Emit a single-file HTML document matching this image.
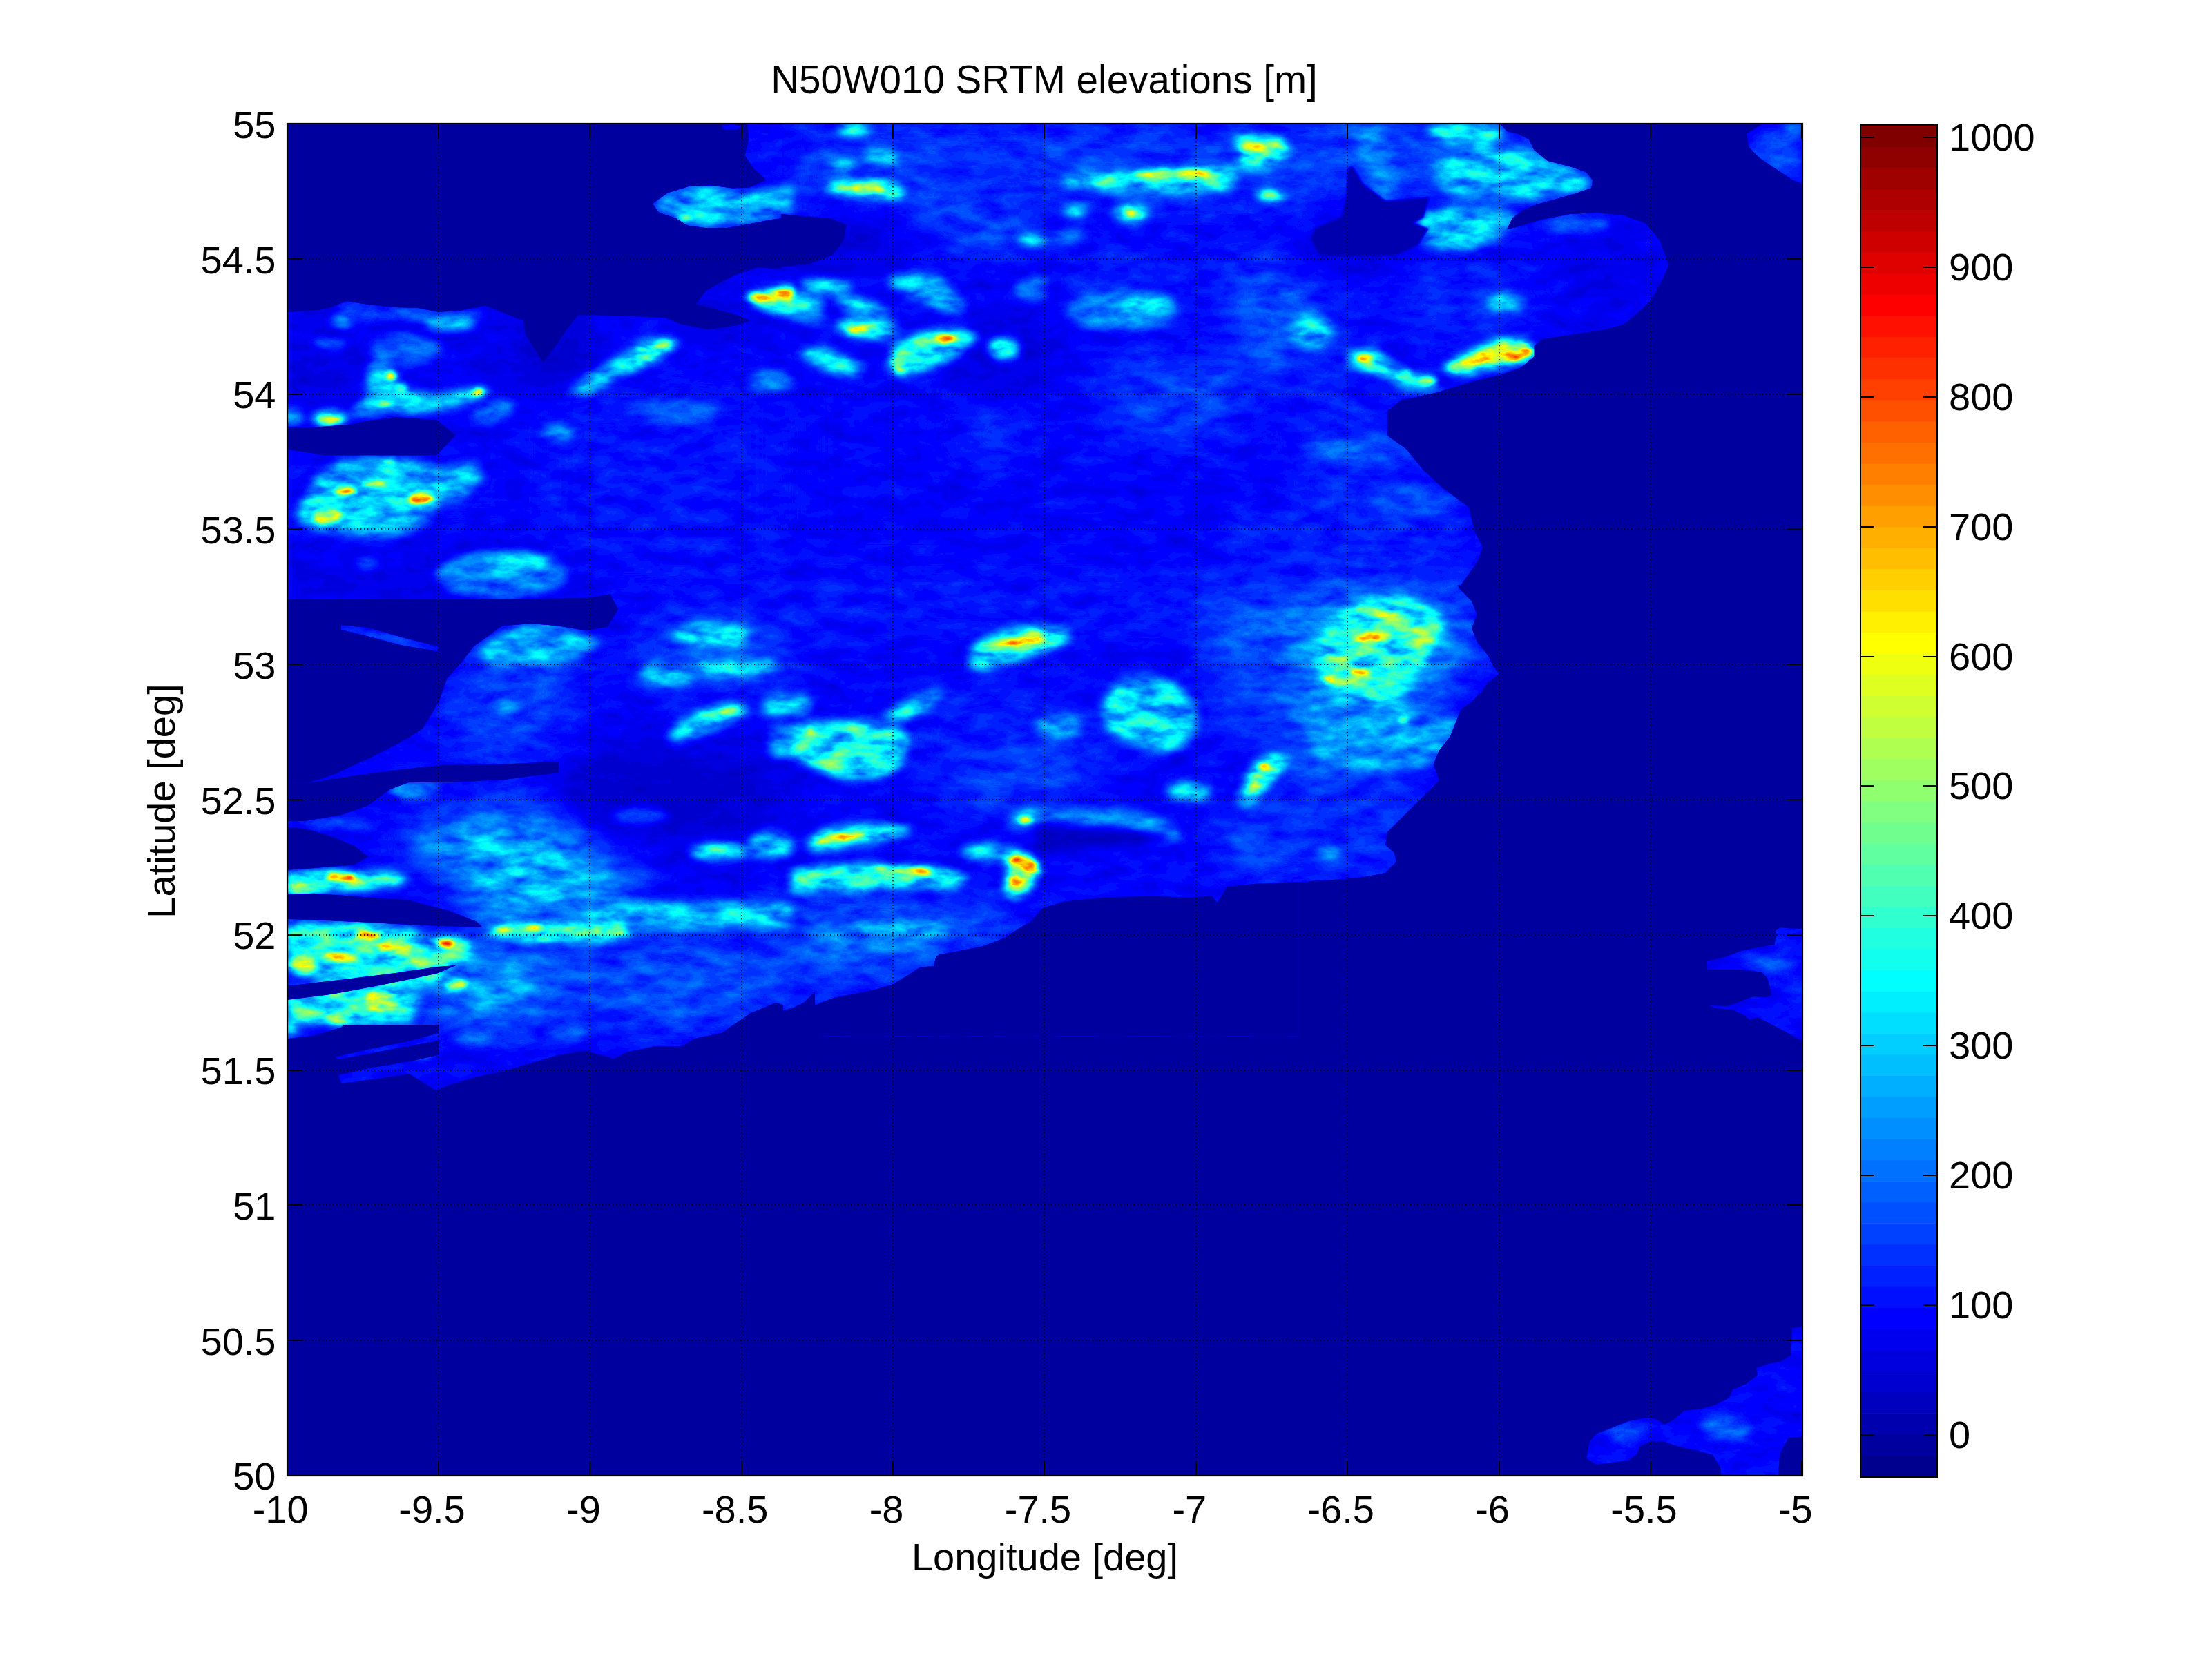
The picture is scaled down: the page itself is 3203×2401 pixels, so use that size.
<!DOCTYPE html><html><head><meta charset="utf-8"><style>html,body{margin:0;padding:0;background:#fff;width:3203px;height:2401px;overflow:hidden}svg{display:block}text{font-family:'Liberation Sans',sans-serif}</style></head><body>
<svg width="3203" height="2401" viewBox="0 0 3203 2401">
<rect x="0" y="0" width="3203" height="2401" fill="#fff"/>
<svg x="415" y="178" width="2196" height="1960" viewBox="415 178 2196 1960" overflow="hidden">
<rect x="415" y="178" width="2196" height="1960" fill="#00009F"/>
<defs>
<filter id="jet" filterUnits="userSpaceOnUse" x="415" y="178" width="2196" height="1960" color-interpolation-filters="sRGB"><feComponentTransfer><feFuncR type="discrete" tableValues="0.00000 0.00000 0.00000 0.00000 0.00000 0.00000 0.00000 0.00000 0.00000 0.00000 0.00000 0.00000 0.00000 0.00000 0.00000 0.00000 0.00000 0.00000 0.00000 0.00000 0.00000 0.00000 0.00000 0.00000 0.06275 0.12549 0.18824 0.25098 0.31373 0.37647 0.43922 0.50196 0.56078 0.62353 0.68627 0.74902 0.81176 0.87451 0.93725 1.00000 1.00000 1.00000 1.00000 1.00000 1.00000 1.00000 1.00000 1.00000 1.00000 1.00000 1.00000 1.00000 1.00000 1.00000 1.00000 1.00000 0.93725 0.87451 0.81176 0.74902 0.68627 0.62353 0.56078 0.50196"/><feFuncG type="discrete" tableValues="0.00000 0.00000 0.00000 0.00000 0.00000 0.00000 0.00000 0.00000 0.06275 0.12549 0.18824 0.25098 0.31373 0.37647 0.43922 0.50196 0.56078 0.62353 0.68627 0.74902 0.81176 0.87451 0.93725 1.00000 1.00000 1.00000 1.00000 1.00000 1.00000 1.00000 1.00000 1.00000 1.00000 1.00000 1.00000 1.00000 1.00000 1.00000 1.00000 1.00000 0.93725 0.87451 0.81176 0.74902 0.68627 0.62353 0.56078 0.50196 0.43922 0.37647 0.31373 0.25098 0.18824 0.12549 0.06275 0.00000 0.00000 0.00000 0.00000 0.00000 0.00000 0.00000 0.00000 0.00000"/><feFuncB type="discrete" tableValues="0.56078 0.62353 0.68627 0.74902 0.81176 0.87451 0.93725 1.00000 1.00000 1.00000 1.00000 1.00000 1.00000 1.00000 1.00000 1.00000 1.00000 1.00000 1.00000 1.00000 1.00000 1.00000 1.00000 1.00000 0.93725 0.87451 0.81176 0.74902 0.68627 0.62353 0.56078 0.50196 0.43922 0.37647 0.31373 0.25098 0.18824 0.12549 0.06275 0.00000 0.00000 0.00000 0.00000 0.00000 0.00000 0.00000 0.00000 0.00000 0.00000 0.00000 0.00000 0.00000 0.00000 0.00000 0.00000 0.00000 0.00000 0.00000 0.00000 0.00000 0.00000 0.00000 0.00000 0.00000"/></feComponentTransfer></filter>
<filter id="bl0" filterUnits="userSpaceOnUse" x="415" y="178" width="2196" height="1960" color-interpolation-filters="sRGB"><feGaussianBlur stdDeviation="30.00"/></filter>
<filter id="bl1" filterUnits="userSpaceOnUse" x="415" y="178" width="2196" height="1960" color-interpolation-filters="sRGB"><feGaussianBlur stdDeviation="7.00"/></filter>
<filter id="bl2" filterUnits="userSpaceOnUse" x="415" y="178" width="2196" height="1960" color-interpolation-filters="sRGB"><feGaussianBlur stdDeviation="3.50"/></filter>
<filter id="bl3" filterUnits="userSpaceOnUse" x="415" y="178" width="2196" height="1960" color-interpolation-filters="sRGB"><feGaussianBlur stdDeviation="1.50"/></filter>
<filter id="noise" filterUnits="userSpaceOnUse" x="415" y="178" width="2196" height="1960" color-interpolation-filters="sRGB"><feTurbulence type="fractalNoise" baseFrequency="0.022 0.05" numOctaves="4" seed="7" result="n0"/><feColorMatrix in="n0" type="matrix" values="1 0 0 0 0  1 0 0 0 0  1 0 0 0 0  0 0 0 0 1" result="n"/><feComponentTransfer in="SourceGraphic" result="A"><feFuncR type="table" tableValues="0.0000 0.0654 0.1699 0.3595 0.5556 0.6536 0.7190 0.7190 0.7190 0.7190 0.7190"/><feFuncG type="table" tableValues="0.0000 0.0654 0.1699 0.3595 0.5556 0.6536 0.7190 0.7190 0.7190 0.7190 0.7190"/><feFuncB type="table" tableValues="0.0000 0.0654 0.1699 0.3595 0.5556 0.6536 0.7190 0.7190 0.7190 0.7190 0.7190"/></feComponentTransfer><feComponentTransfer in="SourceGraphic" result="Ep"><feFuncR type="table" tableValues="0.0000 0.0673 0.1150 0.1203 0.1222 0.1732 0.2405 0.3405 0.4405 0.5405 0.6405"/><feFuncG type="table" tableValues="0.0000 0.0673 0.1150 0.1203 0.1222 0.1732 0.2405 0.3405 0.4405 0.5405 0.6405"/><feFuncB type="table" tableValues="0.0000 0.0673 0.1150 0.1203 0.1222 0.1732 0.2405 0.3405 0.4405 0.5405 0.6405"/></feComponentTransfer><feComposite in="A" in2="n" operator="arithmetic" k1="1" k2="0" k3="0" k4="0" result="r"/><feComposite in="Ep" in2="r" operator="arithmetic" k1="0" k2="1" k3="1" k4="0"/></filter>
<mask id="land" maskUnits="userSpaceOnUse" x="415" y="178" width="2196" height="1960">
<rect x="415" y="178" width="2196" height="1960" fill="#000"/>
<polygon points="1080.5,162.2 1084.4,201.6 1078.5,225.3 1092.3,244.9 1110.0,260.7 1084.4,271.7 1060.8,272.5 1029.3,268.6 997.8,269.7 966.3,279.6 944.6,295.3 954.5,307.9 978.1,315.8 995.8,326.8 1021.4,330.0 1052.9,330.0 1084.4,324.5 1115.9,318.2 1163.1,311.9 1163.1,162.2" fill="#fff"/>
<polygon points="1045.0,181.2 1060.8,179.6 1073.4,182.7 1068.6,187.5 1049.0,187.5" fill="#fff"/>
<polygon points="1093.1,211.5 1108.0,209.5 1118.3,214.2 1108.0,218.2 1096.2,216.6" fill="#fff"/>
<polygon points="399.2,452.5 415.0,452.5 438.6,450.5 462.3,448.9 478.0,445.8 501.6,435.9 533.1,441.0 572.5,445.0 604.0,445.8 635.5,451.7 667.0,449.7 702.8,442.6 730.0,453.6 757.6,464.3 761.5,485.1 786.3,524.9 804.8,500.9 820.6,477.3 836.7,456.4 871.8,456.4 926.9,458.4 963.9,460.3 986.0,469.4 1025.3,477.3 1064.7,471.4 1087.2,464.3 1060.8,453.6 1043.1,449.7 1008.0,440.6 1021.4,422.1 1043.1,409.1 1064.7,398.5 1096.2,387.5 1123.8,388.7 1163.1,385.9 1163.1,847.4 399.2,847.4" fill="#fff"/>
<polygon points="1131.2,162.2 1895.1,162.2 1895.1,847.4 1131.2,847.4" fill="#fff"/>
<polygon points="1863.2,162.2 2170.4,162.2 2170.4,178.0 2182.2,189.8 2197.9,193.8 2213.7,201.6 2221.6,217.4 2241.3,233.1 2272.8,241.0 2296.4,248.9 2306.2,260.7 2304.3,272.5 2280.6,280.4 2253.1,288.3 2225.5,296.1 2205.8,304.0 2190.1,315.8 2182.2,331.6 2194.0,329.6 2233.4,317.8 2272.8,309.9 2312.1,307.9 2351.5,311.9 2383.0,323.7 2402.7,347.3 2416.5,382.8 2406.6,406.4 2390.9,433.9 2371.2,453.6 2351.5,469.4 2324.0,477.3 2292.5,482.0 2264.9,485.9 2233.4,491.0 2221.6,500.9 2221.6,516.6 2201.9,532.4 2174.3,542.2 2134.9,552.1 2099.5,561.9 2083.8,567.8 2056.2,573.7 2028.6,579.6 2008.9,595.4 2008.9,630.8 2036.5,650.5 2060.1,679.7 2087.7,705.6 2126.7,734.4 2134.9,768.6 2146.8,792.3 2139.7,812.7 2115.3,847.4 1863.2,847.4" fill="#fff"/>
<polygon points="2528.7,193.8 2548.4,181.9 2579.9,162.2 2627.1,162.2 2627.1,272.5 2595.6,260.7 2572.0,244.9 2548.4,229.2 2532.6,213.4" fill="#fff"/>
<polygon points="399.2,815.2 1163.1,815.2 1163.1,1483.9 399.2,1483.9" fill="#fff"/>
<polygon points="1131.2,815.2 1895.1,815.2 1895.1,1277.1 1880.2,1277.1 1880.2,1500.4 1131.2,1500.4" fill="#fff"/>
<polygon points="1863.2,815.2 2091.6,815.2 2099.5,831.0 2115.3,854.6 2131.0,870.4 2138.9,890.1 2131.0,909.8 2138.9,929.4 2154.6,949.1 2162.5,964.9 2171.2,975.9 2154.6,988.5 2146.8,1000.3 2131.0,1016.1 2115.3,1027.9 2107.4,1047.6 2099.5,1067.3 2083.8,1086.9 2075.9,1106.6 2083.8,1130.3 2068.0,1146.0 2048.3,1165.7 2028.6,1185.4 2008.9,1205.1 2006.2,1223.2 2019.2,1235.0 2021.9,1248.0 2006.2,1264.1 1975.1,1270.0 1943.2,1273.2 1910.5,1275.2 1880.2,1277.1 1863.2,1277.9" fill="#fff"/>
<polygon points="2571.0,1348.0 2578.0,1343.0 2588.0,1344.0 2609.0,1345.0 2620.0,1345.0 2620.0,1510.0 2609.0,1507.0 2587.0,1495.0 2557.0,1479.0 2545.0,1473.0 2533.0,1477.0 2527.0,1471.0 2509.0,1462.0 2484.0,1460.0 2475.0,1456.0 2502.0,1457.0 2521.0,1450.0 2539.0,1443.0 2557.0,1444.0 2565.0,1441.0 2563.0,1429.0 2559.0,1416.0 2551.0,1408.0 2521.0,1404.0 2497.0,1404.0 2472.0,1404.0 2472.0,1392.0 2497.0,1386.0 2521.0,1377.0 2545.0,1372.0 2569.0,1368.0 2572.0,1356.0" fill="#fff"/>
<polygon points="2297.0,2112.0 2302.0,2087.0 2312.0,2076.0 2333.0,2068.0 2358.0,2058.0 2382.0,2053.0 2398.0,2055.0 2410.0,2063.0 2423.0,2056.0 2439.0,2043.0 2464.0,2040.0 2485.0,2034.0 2504.0,2024.0 2509.0,2012.0 2529.0,2004.0 2545.0,1991.0 2543.0,1981.0 2561.0,1975.0 2577.0,1972.0 2594.0,1962.0 2594.0,1949.0 2595.0,1923.0 2615.0,1921.0 2615.0,2080.0 2590.0,2082.0 2577.0,2105.0 2575.0,2140.0 2493.0,2140.0 2491.0,2125.0 2480.0,2107.0 2455.0,2100.0 2431.0,2095.0 2407.0,2087.0 2390.0,2087.0 2374.0,2095.0 2371.0,2105.0 2358.0,2115.0 2333.0,2118.0 2312.0,2121.0" fill="#fff"/>
<polygon points="399.2,619.0 450.8,619.0 504.8,615.1 533.1,609.2 572.5,604.1 632.0,608.0 659.9,630.0 632.0,659.2 572.5,659.2 468.9,659.2 415.0,650.5 399.2,650.5" fill="#000"/>
<polygon points="1131.2,309.9 1170.6,313.8 1202.1,315.8 1225.8,325.7 1221.8,347.3 1206.1,369.0 1169.8,383.2 1131.2,385.9" fill="#000"/>
<polygon points="399.2,868.0 611.9,868.0 730.0,868.0 808.8,866.4 848.1,865.7 883.6,860.5 895.4,882.2 879.6,907.8 848.1,912.9 808.0,906.2 767.8,903.1 726.9,906.2 706.4,921.6 685.9,936.1 667.0,960.9 647.7,981.8 635.5,1016.1 611.9,1055.4 580.4,1075.1 533.1,1098.8 485.9,1120.4 446.1,1133.8 399.2,1133.8" fill="#000"/>
<polygon points="399.2,1133.8 446.1,1133.8 513.4,1123.2 572.5,1115.3 643.0,1107.4 730.0,1106.6 808.8,1102.7 808.8,1119.2 730.0,1129.1 651.3,1133.0 592.2,1133.0 564.6,1142.9 533.1,1166.5 493.8,1180.3 441.0,1188.9 399.2,1188.9" fill="#000"/>
<polygon points="399.2,1197.2 438.6,1199.2 474.1,1209.0 513.4,1224.8 533.1,1240.5 513.4,1252.3 474.1,1255.5 434.7,1258.6 399.2,1260.2" fill="#000"/>
<polygon points="399.2,1295.6 454.4,1293.7 533.1,1299.6 592.2,1303.5 651.3,1319.3 690.6,1335.0 698.5,1342.9 651.3,1341.3 592.2,1339.0 533.1,1335.8 454.4,1331.9 399.2,1330.3" fill="#000"/>
<polygon points="399.0,1425.0 415.0,1428.0 500.0,1418.0 580.0,1408.0 632.0,1400.0 660.0,1398.0 632.0,1410.0 560.0,1425.0 480.0,1440.0 415.0,1448.0 399.0,1450.0" fill="#000"/>
<polygon points="1030.0,1510.0 1062.0,1484.0 1085.0,1468.0 1124.0,1452.0 1147.0,1460.0 1164.0,1452.0 1180.0,1436.0 1180.0,1530.0 1030.0,1530.0" fill="#000"/>
<polygon points="1131.2,1500.4 1131.2,1468.9 1166.7,1461.0 1206.1,1445.3 1265.1,1433.5 1293.1,1425.6 1324.2,1405.9 1360.0,1382.3 1391.1,1376.4 1422.6,1370.5 1454.1,1358.6 1477.8,1342.9 1491.9,1335.0 1509.3,1315.3 1540.8,1305.5 1599.8,1299.6 1667.2,1297.6 1718.0,1299.6 1755.0,1297.6 1762.8,1307.5 1777.0,1283.8 1816.4,1279.9 1880.2,1277.1 1880.2,1500.4" fill="#000"/>
<polygon points="493.8,905.0 533.1,909.0 580.4,922.4 635.5,936.5 633.5,943.2 580.4,934.2 533.1,921.6 493.8,911.7" fill="#fff"/>
<polygon points="635.9,1468.2 1085.5,1468.2 1061.8,1484.0 1046.0,1495.8 1006.6,1503.7 986.9,1515.6 947.4,1515.6 908.0,1523.4 888.3,1533.3 848.8,1521.5 809.4,1527.4 770.0,1539.2 730.5,1551.0 691.1,1558.9 651.6,1570.8 631.9,1578.7 624.0,1574.7 592.5,1555.0 553.0,1560.9 513.6,1566.8 493.9,1568.8 489.9,1557.0 533.3,1547.1 592.5,1537.2 635.9,1527.4" fill="#fff"/>
<polygon points="486.0,1530.5 533.3,1519.5 592.5,1507.7 635.9,1495.8 643.8,1495.8 643.8,1505.7 592.5,1514.4 533.3,1526.2 489.9,1534.1" fill="#fff"/>
<polygon points="399.2,1468.2 513.6,1468.2 493.9,1487.9 454.4,1499.8 415.0,1504.5 399.2,1505.7" fill="#fff"/>
<polygon points="1133.8,1463.4 1147.0,1460.1 1163.5,1450.2 1173.5,1430.3 1213.2,1436.9 1246.3,1430.3 1289.3,1422.1 1295.9,1403.9 1352.2,1398.9 1358.8,1370.8 1133.8,1370.8" fill="#fff"/>
</mask>
</defs>
<g filter="url(#jet)">
<rect x="415" y="178" width="2196" height="1960" fill="#060606"/>
<g mask="url(#land)">
<g filter="url(#noise)">
<rect x="415" y="178" width="2196" height="1960" fill="#1e1e1e"/>
<g filter="url(#bl0)">
<polygon points="478.0,453.6 769.4,461.5 808.8,532.4 730.0,571.8 651.3,524.5 533.1,493.0 454.4,485.1" fill="#1a1a1a"/>
<ellipse cx="808.8" cy="512.7" rx="59.1" ry="47.3" fill="#101010"/>
<ellipse cx="1037.1" cy="453.6" rx="59.1" ry="31.5" fill="#141414"/>
<ellipse cx="462.3" cy="532.4" rx="78.8" ry="78.8" fill="#181818"/>
<polygon points="769.4,571.8 1147.0,552.1 1147.0,830.9 769.4,830.9" fill="#222222"/>
<polygon points="415.0,768.6 769.4,768.6 769.4,830.9 415.0,830.9" fill="#1e1e1e"/>
<polygon points="1147.0,178.0 1879.0,178.0 1879.0,296.1 1777.0,304.0 1658.9,307.9 1540.8,280.4 1422.6,264.6 1324.2,296.1 1265.1,288.3 1206.1,304.0 1147.0,307.9" fill="#2c2c2c"/>
<ellipse cx="1438.4" cy="331.6" rx="74.8" ry="23.6" fill="#3a3a3a"/>
<ellipse cx="1359.6" cy="300.1" rx="51.2" ry="11.8" fill="#373737"/>
<ellipse cx="1225.8" cy="343.4" rx="78.8" ry="35.4" fill="#121212"/>
<ellipse cx="1462.0" cy="512.7" rx="78.8" ry="59.1" fill="#161616"/>
<ellipse cx="1619.5" cy="398.5" rx="98.4" ry="15.8" fill="#323232"/>
<ellipse cx="1718.0" cy="540.3" rx="137.8" ry="31.5" fill="#2d2d2d"/>
<ellipse cx="1698.3" cy="603.3" rx="118.1" ry="39.4" fill="#2d2d2d"/>
<ellipse cx="1442.3" cy="630.8" rx="59.1" ry="39.4" fill="#2a2a2a"/>
<ellipse cx="1828.2" cy="776.5" rx="51.2" ry="31.5" fill="#2a2a2a"/>
<ellipse cx="1840.0" cy="489.1" rx="43.3" ry="23.6" fill="#373737"/>
<ellipse cx="1808.5" cy="402.4" rx="70.9" ry="31.5" fill="#2d2d2d"/>
<polygon points="1879.0,178.0 2170.4,178.0 2217.6,209.5 2306.2,256.8 2253.1,292.2 2194.0,307.9 2115.3,296.1 2036.5,288.3 1957.8,276.4 1879.0,296.1" fill="#303030"/>
<ellipse cx="1965.6" cy="343.4" rx="90.6" ry="55.1" fill="#181818"/>
<ellipse cx="1880.0" cy="470.0" rx="90.0" ry="50.0" fill="#3c3c3c"/>
<ellipse cx="2115.3" cy="433.9" rx="98.4" ry="59.1" fill="#282828"/>
<ellipse cx="2331.8" cy="398.5" rx="78.8" ry="78.8" fill="#1a1a1a"/>
<polygon points="1879.0,571.8 2008.9,571.8 2008.9,630.8 2060.1,679.7 2134.9,768.6 2115.3,830.9 1879.0,830.9" fill="#262626"/>
<ellipse cx="1914.4" cy="493.0" rx="47.3" ry="78.8" fill="#282828"/>
<polygon points="399.2,815.2 848.1,815.2 848.1,868.0 399.2,868.0" fill="#161616"/>
<polygon points="651.3,984.6 670.9,960.9 690.6,941.3 722.1,921.6 737.9,905.8 769.4,903.8 808.8,907.8 848.1,921.6 867.8,929.4 848.1,949.1 828.5,988.5 828.5,1027.9 808.8,1067.3 789.1,1098.8 730.0,1106.6 670.9,1102.7 651.3,1067.3 651.3,1027.9" fill="#2d2d2d"/>
<polygon points="446.5,1134.2 651.3,988.5 651.3,1106.6 533.1,1122.4" fill="#1e1e1e"/>
<ellipse cx="966.3" cy="1146.0" rx="177.2" ry="70.9" fill="#121212"/>
<polygon points="572.5,1224.8 611.9,1197.2 690.6,1177.5 769.4,1169.6 808.8,1185.4 848.1,1224.8 907.2,1264.1 926.9,1303.5 887.5,1335.0 808.8,1339.0 730.0,1342.9 690.6,1331.1 670.9,1283.8 631.6,1244.5" fill="#4b4b4b"/>
<ellipse cx="978.1" cy="1421.6" rx="177.2" ry="66.9" fill="#323232"/>
<ellipse cx="710.3" cy="1429.5" rx="102.4" ry="55.1" fill="#464646"/>
<ellipse cx="1037.1" cy="941.3" rx="118.1" ry="59.1" fill="#303030"/>
<polygon points="1147.0,831.0 1879.0,831.0 1879.0,909.8 1147.0,909.8" fill="#242424"/>
<ellipse cx="1816.4" cy="909.8" rx="78.8" ry="47.3" fill="#373737"/>
<ellipse cx="1454.1" cy="1067.3" rx="157.5" ry="98.4" fill="#242424"/>
<polygon points="1343.9,1146.0 1462.0,1106.6 1599.8,1075.1 1619.5,1098.8 1501.4,1146.0 1383.3,1165.7" fill="#373737"/>
<ellipse cx="1808.5" cy="1016.1" rx="70.9" ry="59.1" fill="#2d2d2d"/>
<ellipse cx="1828.2" cy="1220.8" rx="59.1" ry="43.3" fill="#373737"/>
<polygon points="1147.0,1323.2 1265.1,1319.3 1383.3,1323.2 1481.7,1331.1 1462.0,1358.6 1383.3,1374.4 1265.1,1390.1 1147.0,1394.1" fill="#414141"/>
<ellipse cx="1249.4" cy="1409.8" rx="102.4" ry="19.7" fill="#2d2d2d"/>
<polygon points="1879.0,870.4 1910.5,854.6 1938.1,850.7 1977.4,854.6 2036.5,858.6 2083.8,862.5 2115.3,878.3 2131.0,909.8 2123.1,949.1 2099.5,988.5 2075.9,1020.0 2044.4,1051.5 1997.1,1075.1 1957.8,1098.8 1918.4,1106.6 1879.0,1114.5" fill="#464646"/>
<ellipse cx="1965.6" cy="1185.4" rx="118.1" ry="98.4" fill="#282828"/>
<ellipse cx="2580.0" cy="1420.0" rx="60.0" ry="80.0" fill="#222222"/>
</g>
<g filter="url(#bl1)">
<polygon points="946.6,296.1 966.3,281.2 997.8,271.7 1029.3,270.5 1060.8,274.9 1084.4,276.4 1108.0,274.5 1147.0,270.5 1147.0,307.9 1115.9,317.8 1084.4,323.7 1052.9,328.4 1021.4,328.4 995.8,324.5 978.1,313.8 954.5,306.0" fill="#4e4e4e"/>
<polygon points="1084.4,178.0 1147.0,178.0 1147.0,268.6 1112.0,260.7 1092.3,243.0 1080.5,225.3 1084.4,201.6" fill="#202020"/>
<polygon points="481.9,449.7 505.6,438.7 533.1,442.6 572.5,446.9 604.0,447.7 635.5,453.6 667.0,451.7 698.5,445.8 690.6,461.5 651.3,469.4 611.9,467.4 572.5,461.5 533.1,459.5 493.8,461.5" fill="#373737"/>
<ellipse cx="651.3" cy="469.4" rx="35.4" ry="8.7" fill="#555555"/>
<ellipse cx="493.8" cy="467.4" rx="13.8" ry="5.9" fill="#505050"/>
<ellipse cx="478.0" cy="498.9" rx="23.6" ry="5.9" fill="#464646"/>
<ellipse cx="588.3" cy="504.8" rx="51.2" ry="21.7" fill="#373737"/>
<polygon points="533.1,524.5 556.8,524.5 572.5,544.2 592.2,567.8 635.5,571.8 659.1,567.8 706.4,563.9 698.5,575.7 659.1,587.5 627.6,595.4 592.2,599.3 564.6,595.4 513.4,601.3 509.5,591.5 533.1,571.8 533.1,548.1" fill="#555555"/>
<polygon points="682.8,603.3 698.5,591.5 722.1,581.6 741.8,581.6 737.9,595.4 714.3,607.2 690.6,609.2" fill="#4b4b4b"/>
<ellipse cx="808.8" cy="626.9" rx="21.7" ry="11.8" fill="#464646"/>
<polygon points="820.6,567.8 848.1,548.1 879.6,528.4 911.1,508.8 926.9,493.0 966.3,489.1 986.0,496.9 966.3,512.7 926.9,532.4 887.5,552.1 848.1,571.8" fill="#5a5a5a"/>
<polygon points="1076.5,430.0 1108.0,418.2 1147.0,412.3 1147.0,455.6 1112.0,449.7 1092.3,437.9" fill="#6e6e6e"/>
<ellipse cx="1115.9" cy="552.1" rx="31.5" ry="11.8" fill="#4b4b4b"/>
<ellipse cx="974.1" cy="595.4" rx="66.9" ry="15.8" fill="#373737"/>
<ellipse cx="478.0" cy="605.2" rx="25.6" ry="11.0" fill="#646464"/>
<ellipse cx="422.9" cy="603.3" rx="15.8" ry="9.8" fill="#505050"/>
<polygon points="462.3,686.0 493.8,666.3 552.8,662.3 592.2,666.3 635.5,678.1 690.6,670.2 698.5,689.9 670.9,721.4 635.5,729.3 619.8,756.8 572.5,776.5 513.4,776.5 454.4,768.6 430.8,749.0 438.6,721.4" fill="#505050"/>
<ellipse cx="727.0" cy="832.0" rx="95.0" ry="35.0" fill="#3c3c3c"/>
<ellipse cx="745.0" cy="815.0" rx="50.0" ry="15.0" fill="#555555"/>
<ellipse cx="529.2" cy="815.9" rx="15.8" ry="7.9" fill="#464646"/>
<ellipse cx="692.6" cy="567.8" rx="11.8" ry="7.1" fill="#787878"/>
<polygon points="1206.1,260.7 1265.1,256.8 1312.4,268.6 1304.5,289.0 1265.1,287.5 1225.8,285.1 1194.3,281.2" fill="#646464"/>
<ellipse cx="1237.6" cy="187.8" rx="23.6" ry="7.9" fill="#6e6e6e"/>
<ellipse cx="1217.9" cy="241.0" rx="19.7" ry="7.1" fill="#646464"/>
<ellipse cx="1276.9" cy="225.3" rx="23.6" ry="9.8" fill="#5a5a5a"/>
<polygon points="1540.8,256.8 1580.1,244.9 1639.2,248.9 1718.0,243.0 1777.0,241.0 1796.7,256.8 1777.0,274.5 1718.0,278.4 1658.9,278.4 1599.8,274.5 1540.8,269.4" fill="#5f5f5f"/>
<polygon points="1784.9,201.6 1816.4,193.8 1855.8,201.6 1867.6,225.3 1840.0,243.0 1800.6,243.0 1792.8,225.3" fill="#696969"/>
<ellipse cx="1635.3" cy="307.9" rx="25.6" ry="12.6" fill="#646464"/>
<ellipse cx="1556.5" cy="304.0" rx="17.7" ry="8.7" fill="#555555"/>
<ellipse cx="1840.0" cy="284.3" rx="21.7" ry="8.7" fill="#646464"/>
<ellipse cx="1493.5" cy="347.3" rx="21.7" ry="8.7" fill="#555555"/>
<ellipse cx="1544.7" cy="343.4" rx="23.6" ry="7.9" fill="#464646"/>
<polygon points="1162.8,408.4 1198.2,405.6 1233.6,413.5 1225.8,422.9 1186.4,422.9 1162.8,419.0" fill="#696969"/>
<polygon points="1147.0,426.1 1178.5,430.0 1198.2,441.8 1178.5,450.5 1147.0,446.5" fill="#5f5f5f"/>
<polygon points="1206.1,430.0 1245.4,433.9 1280.9,445.8 1292.7,454.4 1265.1,456.4 1225.8,450.5" fill="#5a5a5a"/>
<ellipse cx="1170.6" cy="459.5" rx="27.6" ry="5.9" fill="#4b4b4b"/>
<polygon points="1210.0,465.4 1249.4,461.5 1296.6,469.4 1304.5,482.0 1265.1,489.9 1225.8,485.9" fill="#696969"/>
<polygon points="1158.8,504.8 1194.3,504.8 1225.8,516.6 1253.3,532.4 1241.5,546.2 1206.1,540.3 1170.6,524.5" fill="#5a5a5a"/>
<polygon points="1292.7,500.9 1324.2,485.1 1351.8,477.3 1391.1,477.3 1414.8,485.1 1399.0,504.8 1375.4,520.6 1343.9,532.4 1304.5,544.2 1288.8,532.4" fill="#646464"/>
<polygon points="1288.8,398.5 1328.1,390.6 1359.6,398.5 1383.3,430.0 1399.0,445.8 1367.5,449.7 1324.2,433.9 1288.8,414.3" fill="#4b4b4b"/>
<ellipse cx="1379.3" cy="443.8" rx="19.7" ry="5.9" fill="#5f5f5f"/>
<ellipse cx="1454.1" cy="504.8" rx="21.7" ry="15.8" fill="#646464"/>
<ellipse cx="1493.5" cy="418.2" rx="23.6" ry="19.7" fill="#373737"/>
<ellipse cx="1623.5" cy="449.7" rx="78.8" ry="27.6" fill="#414141"/>
<ellipse cx="1658.9" cy="439.9" rx="39.4" ry="12.6" fill="#5f5f5f"/>
<polygon points="2068.0,178.0 2170.4,178.0 2178.3,197.7 2154.6,209.5 2099.5,209.5 2068.0,197.7" fill="#555555"/>
<polygon points="2075.9,229.2 2131.0,217.4 2178.3,213.4 2217.6,217.4 2257.0,237.1 2296.4,252.8 2304.3,268.6 2272.8,280.4 2217.6,288.3 2154.6,284.3 2099.5,280.4 2075.9,256.8" fill="#505050"/>
<polygon points="1949.9,178.0 1997.1,178.0 2028.6,237.1 2020.8,292.2 1997.1,292.2 1973.5,237.1" fill="#3c3c3c"/>
<polygon points="2056.2,307.9 2115.3,300.1 2186.1,307.9 2194.0,319.8 2170.4,343.4 2134.9,359.1 2095.6,363.1 2056.2,351.3" fill="#555555"/>
<ellipse cx="2288.5" cy="323.7" rx="43.3" ry="11.8" fill="#373737"/>
<ellipse cx="2182.2" cy="437.9" rx="27.6" ry="13.8" fill="#505050"/>
<polygon points="2091.6,532.4 2115.3,516.6 2146.8,500.9 2178.3,493.0 2209.8,493.0 2221.6,504.8 2217.6,520.6 2186.1,528.4 2154.6,532.4 2123.1,540.3 2099.5,540.3" fill="#8c8c8c"/>
<polygon points="1949.9,512.7 1989.3,504.8 2016.8,524.5 2044.4,540.3 2075.9,548.1 2083.8,563.9 2052.3,567.8 2020.8,556.0 1981.4,540.3 1953.8,528.4" fill="#5a5a5a"/>
<ellipse cx="1898.7" cy="481.2" rx="31.5" ry="23.6" fill="#555555"/>
<ellipse cx="1965.6" cy="650.5" rx="86.6" ry="19.7" fill="#343434"/>
<ellipse cx="2044.4" cy="725.3" rx="66.9" ry="23.6" fill="#303030"/>
<ellipse cx="2572.0" cy="225.3" rx="39.4" ry="35.4" fill="#2d2d2d"/>
<ellipse cx="2599.6" cy="185.9" rx="15.8" ry="11.8" fill="#3c3c3c"/>
<polygon points="690.6,941.3 722.1,921.6 737.9,905.8 769.4,903.8 808.8,907.8 848.1,921.6 867.8,929.4 848.1,949.1 808.8,960.9 749.7,964.9 710.3,960.9" fill="#4b4b4b"/>
<ellipse cx="733.9" cy="1023.9" rx="15.8" ry="7.1" fill="#5a5a5a"/>
<polygon points="493.8,905.8 533.1,909.8 580.4,923.5 635.5,937.3 627.6,943.2 580.4,933.4 533.1,921.6 493.8,911.7" fill="#373737"/>
<ellipse cx="1029.3" cy="919.6" rx="55.1" ry="17.7" fill="#555555"/>
<ellipse cx="966.3" cy="976.7" rx="39.4" ry="15.8" fill="#555555"/>
<ellipse cx="1064.7" cy="964.9" rx="59.1" ry="15.8" fill="#505050"/>
<polygon points="966.3,1067.3 986.0,1043.6 1025.3,1023.9 1064.7,1016.1 1084.4,1023.9 1076.5,1039.7 1045.0,1051.5 1005.6,1067.3 974.1,1075.1" fill="#5a5a5a"/>
<ellipse cx="1127.7" cy="1020.0" rx="23.6" ry="15.8" fill="#555555"/>
<ellipse cx="1131.6" cy="1075.1" rx="19.7" ry="23.6" fill="#464646"/>
<ellipse cx="926.9" cy="1179.5" rx="39.4" ry="9.8" fill="#373737"/>
<ellipse cx="1041.1" cy="1232.6" rx="43.3" ry="11.0" fill="#5f5f5f"/>
<ellipse cx="1115.9" cy="1224.8" rx="31.5" ry="19.7" fill="#555555"/>
<polygon points="415.0,1264.1 454.4,1262.2 513.4,1262.2 572.5,1264.1 592.2,1272.0 572.5,1283.8 513.4,1287.8 454.4,1293.7 415.0,1295.6" fill="#6e6e6e"/>
<ellipse cx="493.8" cy="1191.3" rx="59.1" ry="4.7" fill="#3c3c3c"/>
<ellipse cx="600.1" cy="1144.0" rx="35.4" ry="11.8" fill="#464646"/>
<polygon points="706.4,1346.8 730.0,1339.0 769.4,1337.0 808.8,1339.0 848.1,1339.0 907.2,1342.9 907.2,1358.6 848.1,1360.6 789.1,1360.6 730.0,1358.6" fill="#6e6e6e"/>
<polygon points="848.1,1315.3 926.9,1307.5 1005.6,1307.5 1084.4,1303.5 1147.0,1307.5 1147.0,1342.9 1045.0,1346.8 946.6,1342.9 848.1,1339.0" fill="#505050"/>
<polygon points="415.0,1335.0 474.1,1331.9 533.1,1335.8 592.2,1342.9 611.9,1354.7 670.9,1358.6 690.6,1382.3 651.3,1413.8 611.9,1429.5 572.5,1429.5 493.8,1421.6 434.7,1413.8 415.0,1402.0" fill="#5f5f5f"/>
<polygon points="415.0,1433.5 454.4,1429.5 513.4,1421.6 572.5,1429.5 611.9,1445.3 592.2,1483.9 415.0,1483.9" fill="#5f5f5f"/>
<polygon points="1402.9,945.2 1422.6,925.5 1454.1,913.7 1493.5,907.8 1540.8,909.8 1548.6,921.6 1532.9,937.3 1501.4,946.0 1462.0,957.8 1422.6,969.6 1402.9,961.7" fill="#696969"/>
<polygon points="1147.0,1047.6 1186.4,1045.6 1245.4,1043.6 1304.5,1051.5 1316.3,1075.1 1304.5,1106.6 1276.9,1126.3 1245.4,1130.3 1206.1,1122.4 1166.7,1106.6 1147.0,1098.8" fill="#5f5f5f"/>
<ellipse cx="1154.9" cy="1022.0" rx="19.7" ry="13.8" fill="#555555"/>
<polygon points="1276.9,1039.7 1304.5,1020.0 1328.1,1004.3 1351.8,999.5 1367.5,996.4 1343.9,1027.9 1312.4,1041.7" fill="#5a5a5a"/>
<polygon points="1458.1,1189.3 1481.7,1176.7 1501.4,1172.8 1514.0,1177.5 1509.3,1190.1 1481.7,1194.0 1462.0,1194.0" fill="#787878"/>
<polygon points="1170.6,1220.8 1186.4,1205.9 1225.8,1198.0 1265.1,1196.4 1312.4,1198.0 1320.3,1205.1 1265.1,1217.7 1225.8,1225.6 1186.4,1231.5 1170.6,1228.7" fill="#787878"/>
<polygon points="1147.0,1260.2 1186.4,1254.3 1265.1,1251.5 1324.2,1253.1 1383.3,1260.2 1402.9,1276.0 1383.3,1284.6 1324.2,1284.6 1265.1,1288.6 1206.1,1292.5 1147.0,1292.5" fill="#646464"/>
<polygon points="1454.1,1240.5 1469.9,1227.9 1489.6,1239.7 1501.4,1251.5 1506.1,1264.1 1493.5,1279.9 1481.7,1296.4 1462.0,1300.4 1454.1,1283.8 1462.0,1264.1" fill="#828282"/>
<ellipse cx="1426.6" cy="1234.6" rx="35.4" ry="11.8" fill="#555555"/>
<polygon points="1595.9,1020.0 1619.5,988.5 1658.9,976.7 1698.3,988.5 1729.8,1020.0 1733.7,1051.5 1718.0,1075.1 1686.5,1091.7 1651.0,1083.8 1619.5,1067.3 1599.8,1051.5" fill="#555555"/>
<polygon points="1788.8,1162.5 1800.6,1138.1 1812.5,1114.5 1824.3,1098.8 1847.9,1090.9 1867.6,1098.8 1855.8,1115.3 1840.0,1131.0 1824.3,1150.7 1808.5,1166.5" fill="#6e6e6e"/>
<ellipse cx="1721.9" cy="1146.0" rx="31.5" ry="15.8" fill="#505050"/>
<polygon points="1458.1,1190.1 1501.4,1174.4 1560.5,1170.4 1619.5,1174.4 1658.9,1178.3 1698.3,1194.0 1714.0,1217.7 1678.6,1225.6 1619.5,1221.6 1560.5,1205.9 1521.1,1198.0" fill="#464646"/>
<ellipse cx="1532.9" cy="1051.5" rx="31.5" ry="15.8" fill="#4b4b4b"/>
<ellipse cx="1312.4" cy="1344.9" rx="66.9" ry="9.8" fill="#505050"/>
<polygon points="1910.5,929.4 1938.1,890.1 1977.4,870.4 2036.5,866.4 2075.9,882.2 2091.6,909.8 2075.9,941.3 2056.2,968.8 2036.5,996.4 1997.1,1020.0 1957.8,1008.2 1918.4,988.5 1902.6,960.9" fill="#646464"/>
<ellipse cx="1924.3" cy="1234.6" rx="15.8" ry="7.1" fill="#505050"/>
<ellipse cx="1898.7" cy="1122.4" rx="31.5" ry="15.8" fill="#373737"/>
<ellipse cx="2570.0" cy="1395.0" rx="40.0" ry="12.0" fill="#303030"/>
<ellipse cx="420.9" cy="1491.9" rx="9.9" ry="9.9" fill="#5a5a5a"/>
<ellipse cx="612.2" cy="1525.4" rx="19.7" ry="5.9" fill="#555555"/>
<ellipse cx="683.2" cy="1501.7" rx="31.6" ry="7.9" fill="#3c3c3c"/>
<ellipse cx="821.2" cy="1497.8" rx="31.6" ry="9.9" fill="#373737"/>
<ellipse cx="533.3" cy="1519.5" rx="39.4" ry="3.9" fill="#2d2d2d"/>
<ellipse cx="1246.3" cy="1410.5" rx="82.7" ry="13.2" fill="#2d2d2d"/>
<ellipse cx="2500.0" cy="2068.0" rx="35.0" ry="22.0" fill="#323232"/>
<ellipse cx="2360.0" cy="2075.0" rx="30.0" ry="15.0" fill="#2e2e2e"/>
<polygon points="1896.0,1035.0 2000.0,1030.0 2110.0,1040.0 2120.0,1080.0 2060.0,1110.0 1960.0,1120.0 1900.0,1090.0" fill="#444444"/>
<polygon points="1500.0,1190.0 1600.0,1196.0 1690.0,1206.0 1700.0,1218.0 1600.0,1228.0 1500.0,1234.0" fill="#101010"/>
</g>
<g filter="url(#bl2)">
<ellipse cx="989.9" cy="316.6" rx="9.8" ry="3.2" fill="#969696"/>
<ellipse cx="566.6" cy="546.2" rx="5.9" ry="7.9" fill="#969696"/>
<ellipse cx="556.8" cy="583.6" rx="9.8" ry="3.9" fill="#8c8c8c"/>
<ellipse cx="580.4" cy="561.9" rx="7.9" ry="3.9" fill="#8c8c8c"/>
<ellipse cx="692.6" cy="567.8" rx="5.9" ry="3.2" fill="#c8c8c8"/>
<polygon points="923.0,504.8 958.4,495.0 974.1,498.9 946.6,516.6 923.0,528.4" fill="#8c8c8c"/>
<polygon points="1080.5,430.0 1115.9,420.2 1147.0,416.2 1147.0,433.9 1115.9,437.9 1092.3,435.9" fill="#a0a0a0"/>
<ellipse cx="478.0" cy="607.2" rx="15.8" ry="3.2" fill="#969696"/>
<ellipse cx="501.6" cy="711.5" rx="15.8" ry="3.9" fill="#d2d2d2"/>
<ellipse cx="541.0" cy="700.9" rx="15.8" ry="3.2" fill="#bebebe"/>
<ellipse cx="609.9" cy="721.4" rx="17.7" ry="7.9" fill="#aaaaaa"/>
<ellipse cx="474.1" cy="749.0" rx="19.7" ry="11.8" fill="#969696"/>
<ellipse cx="564.6" cy="666.3" rx="7.9" ry="3.9" fill="#8c8c8c"/>
<ellipse cx="1257.3" cy="274.5" rx="23.6" ry="4.7" fill="#a0a0a0"/>
<ellipse cx="1706.1" cy="252.8" rx="63.0" ry="5.5" fill="#969696"/>
<ellipse cx="1635.3" cy="307.9" rx="7.9" ry="5.9" fill="#969696"/>
<ellipse cx="1241.5" cy="477.3" rx="15.8" ry="5.9" fill="#969696"/>
<ellipse cx="1367.5" cy="491.0" rx="15.8" ry="3.9" fill="#aaaaaa"/>
<ellipse cx="1304.5" cy="534.4" rx="7.9" ry="5.9" fill="#969696"/>
<ellipse cx="1816.4" cy="221.3" rx="19.7" ry="15.8" fill="#828282"/>
<ellipse cx="1840.0" cy="284.3" rx="11.8" ry="4.7" fill="#8c8c8c"/>
<polygon points="2115.3,524.5 2146.8,508.8 2178.3,498.9 2209.8,496.9 2217.6,508.8 2194.0,520.6 2154.6,528.4 2123.1,534.4" fill="#a0a0a0"/>
<ellipse cx="2203.9" cy="501.7" rx="5.5" ry="3.2" fill="#c8c8c8"/>
<ellipse cx="1977.4" cy="520.6" rx="11.8" ry="5.9" fill="#969696"/>
<ellipse cx="2068.0" cy="552.1" rx="11.8" ry="5.9" fill="#8c8c8c"/>
<ellipse cx="2032.6" cy="540.3" rx="9.8" ry="5.9" fill="#828282"/>
<polygon points="474.1,1268.1 513.4,1266.1 509.5,1274.0 474.1,1276.0" fill="#c8c8c8"/>
<ellipse cx="730.0" cy="1346.8" rx="11.8" ry="3.2" fill="#969696"/>
<ellipse cx="773.3" cy="1342.9" rx="11.8" ry="3.9" fill="#a0a0a0"/>
<ellipse cx="863.9" cy="1346.8" rx="7.9" ry="3.9" fill="#969696"/>
<ellipse cx="793.0" cy="1358.6" rx="15.8" ry="3.9" fill="#8c8c8c"/>
<ellipse cx="533.1" cy="1353.9" rx="19.7" ry="4.7" fill="#e6e6e6"/>
<ellipse cx="645.4" cy="1365.7" rx="11.8" ry="4.7" fill="#e1e1e1"/>
<ellipse cx="493.8" cy="1386.2" rx="23.6" ry="5.9" fill="#a0a0a0"/>
<ellipse cx="438.6" cy="1398.0" rx="19.7" ry="11.8" fill="#969696"/>
<ellipse cx="572.5" cy="1374.4" rx="23.6" ry="11.8" fill="#969696"/>
<ellipse cx="552.8" cy="1449.2" rx="23.6" ry="15.8" fill="#969696"/>
<ellipse cx="493.8" cy="1472.8" rx="19.7" ry="7.9" fill="#969696"/>
<ellipse cx="659.1" cy="1425.6" rx="15.8" ry="7.9" fill="#8c8c8c"/>
<ellipse cx="1056.8" cy="1029.9" rx="11.8" ry="3.9" fill="#969696"/>
<polygon points="1430.5,937.3 1462.0,925.5 1501.4,915.7 1532.9,915.7 1501.4,929.4 1462.0,937.3" fill="#969696"/>
<ellipse cx="1174.6" cy="1059.4" rx="5.9" ry="3.9" fill="#a0a0a0"/>
<ellipse cx="1485.6" cy="1187.4" rx="9.8" ry="3.2" fill="#bebebe"/>
<polygon points="1182.4,1218.9 1206.1,1211.0 1253.3,1207.0 1257.3,1209.8 1206.1,1216.9 1184.4,1221.6" fill="#d7d7d7"/>
<polygon points="1265.1,1258.2 1316.3,1255.5 1351.8,1260.2 1343.9,1266.1 1304.5,1264.1 1265.1,1262.2" fill="#a0a0a0"/>
<ellipse cx="1489.6" cy="1256.3" rx="11.8" ry="7.9" fill="#d2d2d2"/>
<polygon points="1469.9,1236.6 1481.7,1248.4 1473.8,1272.0 1477.8,1287.8 1465.9,1279.9 1465.9,1248.4" fill="#aaaaaa"/>
<ellipse cx="1830.2" cy="1111.4" rx="7.9" ry="3.9" fill="#c8c8c8"/>
<ellipse cx="1816.4" cy="1138.1" rx="5.9" ry="4.7" fill="#aaaaaa"/>
<ellipse cx="2008.9" cy="890.1" rx="19.7" ry="3.9" fill="#b4b4b4"/>
<ellipse cx="1985.3" cy="923.5" rx="27.6" ry="5.9" fill="#c8c8c8"/>
<ellipse cx="1969.6" cy="973.5" rx="15.8" ry="5.5" fill="#dcdcdc"/>
<ellipse cx="1934.1" cy="953.1" rx="15.8" ry="3.9" fill="#969696"/>
<ellipse cx="2048.3" cy="913.7" rx="19.7" ry="3.9" fill="#969696"/>
<ellipse cx="1924.3" cy="983.8" rx="7.9" ry="3.2" fill="#969696"/>
<ellipse cx="2032.6" cy="1042.8" rx="7.9" ry="3.2" fill="#969696"/>
</g>
<g filter="url(#bl3)">
<polygon points="1958.0,241.0 1974.0,267.0 2006.0,291.0 2069.0,286.0 2061.0,315.0 2045.0,323.0 2069.0,331.0 2053.0,354.0 2022.0,370.0 1958.0,372.0 1911.0,369.0 1898.0,347.0 1903.0,331.0 1942.0,315.0 1950.0,283.0 1952.0,244.0" fill="#0a0a0a"/>
<ellipse cx="1993.2" cy="924.3" rx="5.9" ry="3.2" fill="#e1e1e1"/>
</g>
</g></g></g>
</svg>
<path d="M635.0 180 V2136 M417 1941.0 H2609 M854.0 180 V2136 M417 1745.0 H2609 M1074.0 180 V2136 M417 1550.0 H2609 M1293.0 180 V2136 M417 1354.0 H2609 M1512.0 180 V2136 M417 1158.0 H2609 M1732.0 180 V2136 M417 962.0 H2609 M1951.0 180 V2136 M417 766.0 H2609 M2171.0 180 V2136 M417 571.0 H2609 M2390.0 180 V2136 M417 375.0 H2609" stroke="#000" stroke-width="1.4" stroke-dasharray="1.4 3.6" fill="none"/>
<path d="M416 178 v23 M416 2138 v-23 M415 2137 h23 M2611 2137 h-23 M635 178 v23 M635 2138 v-23 M415 1941 h23 M2611 1941 h-23 M854 178 v23 M854 2138 v-23 M415 1745 h23 M2611 1745 h-23 M1074 178 v23 M1074 2138 v-23 M415 1550 h23 M2611 1550 h-23 M1293 178 v23 M1293 2138 v-23 M415 1354 h23 M2611 1354 h-23 M1512 178 v23 M1512 2138 v-23 M415 1158 h23 M2611 1158 h-23 M1732 178 v23 M1732 2138 v-23 M415 962 h23 M2611 962 h-23 M1951 178 v23 M1951 2138 v-23 M415 766 h23 M2611 766 h-23 M2171 178 v23 M2171 2138 v-23 M415 571 h23 M2611 571 h-23 M2390 178 v23 M2390 2138 v-23 M415 375 h23 M2611 375 h-23 M2609 178 v23 M2609 2138 v-23 M415 179 h23 M2611 179 h-23" stroke="#000" stroke-width="2" fill="none"/>
<rect x="416" y="179" width="2194" height="1958" fill="none" stroke="#000" stroke-width="2.2"/>
<text x="406.1" y="2205" font-size="56" text-anchor="middle">-10</text>
<text x="399.5" y="2157.2" font-size="56" text-anchor="end">50</text>
<text x="625.5" y="2205" font-size="56" text-anchor="middle">-9.5</text>
<text x="399.5" y="1961.5" font-size="56" text-anchor="end">50.5</text>
<text x="844.9" y="2205" font-size="56" text-anchor="middle">-9</text>
<text x="399.5" y="1765.8" font-size="56" text-anchor="end">51</text>
<text x="1064.2" y="2205" font-size="56" text-anchor="middle">-8.5</text>
<text x="399.5" y="1570.0" font-size="56" text-anchor="end">51.5</text>
<text x="1283.6" y="2205" font-size="56" text-anchor="middle">-8</text>
<text x="399.5" y="1374.2" font-size="56" text-anchor="end">52</text>
<text x="1503.0" y="2205" font-size="56" text-anchor="middle">-7.5</text>
<text x="399.5" y="1178.5" font-size="56" text-anchor="end">52.5</text>
<text x="1722.3" y="2205" font-size="56" text-anchor="middle">-7</text>
<text x="399.5" y="982.8" font-size="56" text-anchor="end">53</text>
<text x="1941.7" y="2205" font-size="56" text-anchor="middle">-6.5</text>
<text x="399.5" y="787.0" font-size="56" text-anchor="end">53.5</text>
<text x="2161.1" y="2205" font-size="56" text-anchor="middle">-6</text>
<text x="399.5" y="591.2" font-size="56" text-anchor="end">54</text>
<text x="2380.5" y="2205" font-size="56" text-anchor="middle">-5.5</text>
<text x="399.5" y="395.5" font-size="56" text-anchor="end">54.5</text>
<text x="2599.8" y="2205" font-size="56" text-anchor="middle">-5</text>
<text x="399.5" y="199.8" font-size="56" text-anchor="end">55</text>
<text x="1513" y="2274" font-size="56" text-anchor="middle">Longitude [deg]</text>
<text x="0" y="0" font-size="56" text-anchor="middle" transform="translate(253 1160) rotate(-90)">Latitude [deg]</text>
<text x="1512" y="135" font-size="56.6" text-anchor="middle">N50W010 SRTM elevations [m]</text>
<rect x="2693" y="2107.44" width="113" height="31.16" fill="#00008F"/>
<rect x="2693" y="2076.88" width="113" height="31.16" fill="#00009F"/>
<rect x="2693" y="2046.31" width="113" height="31.16" fill="#0000AF"/>
<rect x="2693" y="2015.75" width="113" height="31.16" fill="#0000BF"/>
<rect x="2693" y="1985.19" width="113" height="31.16" fill="#0000CF"/>
<rect x="2693" y="1954.62" width="113" height="31.16" fill="#0000DF"/>
<rect x="2693" y="1924.06" width="113" height="31.16" fill="#0000EF"/>
<rect x="2693" y="1893.50" width="113" height="31.16" fill="#0000FF"/>
<rect x="2693" y="1862.94" width="113" height="31.16" fill="#0010FF"/>
<rect x="2693" y="1832.38" width="113" height="31.16" fill="#0020FF"/>
<rect x="2693" y="1801.81" width="113" height="31.16" fill="#0030FF"/>
<rect x="2693" y="1771.25" width="113" height="31.16" fill="#0040FF"/>
<rect x="2693" y="1740.69" width="113" height="31.16" fill="#0050FF"/>
<rect x="2693" y="1710.12" width="113" height="31.16" fill="#0060FF"/>
<rect x="2693" y="1679.56" width="113" height="31.16" fill="#0070FF"/>
<rect x="2693" y="1649.00" width="113" height="31.16" fill="#0080FF"/>
<rect x="2693" y="1618.44" width="113" height="31.16" fill="#008FFF"/>
<rect x="2693" y="1587.88" width="113" height="31.16" fill="#009FFF"/>
<rect x="2693" y="1557.31" width="113" height="31.16" fill="#00AFFF"/>
<rect x="2693" y="1526.75" width="113" height="31.16" fill="#00BFFF"/>
<rect x="2693" y="1496.19" width="113" height="31.16" fill="#00CFFF"/>
<rect x="2693" y="1465.62" width="113" height="31.16" fill="#00DFFF"/>
<rect x="2693" y="1435.06" width="113" height="31.16" fill="#00EFFF"/>
<rect x="2693" y="1404.50" width="113" height="31.16" fill="#00FFFF"/>
<rect x="2693" y="1373.94" width="113" height="31.16" fill="#10FFEF"/>
<rect x="2693" y="1343.38" width="113" height="31.16" fill="#20FFDF"/>
<rect x="2693" y="1312.81" width="113" height="31.16" fill="#30FFCF"/>
<rect x="2693" y="1282.25" width="113" height="31.16" fill="#40FFBF"/>
<rect x="2693" y="1251.69" width="113" height="31.16" fill="#50FFAF"/>
<rect x="2693" y="1221.12" width="113" height="31.16" fill="#60FF9F"/>
<rect x="2693" y="1190.56" width="113" height="31.16" fill="#70FF8F"/>
<rect x="2693" y="1160.00" width="113" height="31.16" fill="#80FF80"/>
<rect x="2693" y="1129.44" width="113" height="31.16" fill="#8FFF70"/>
<rect x="2693" y="1098.88" width="113" height="31.16" fill="#9FFF60"/>
<rect x="2693" y="1068.31" width="113" height="31.16" fill="#AFFF50"/>
<rect x="2693" y="1037.75" width="113" height="31.16" fill="#BFFF40"/>
<rect x="2693" y="1007.19" width="113" height="31.16" fill="#CFFF30"/>
<rect x="2693" y="976.62" width="113" height="31.16" fill="#DFFF20"/>
<rect x="2693" y="946.06" width="113" height="31.16" fill="#EFFF10"/>
<rect x="2693" y="915.50" width="113" height="31.16" fill="#FFFF00"/>
<rect x="2693" y="884.94" width="113" height="31.16" fill="#FFEF00"/>
<rect x="2693" y="854.38" width="113" height="31.16" fill="#FFDF00"/>
<rect x="2693" y="823.81" width="113" height="31.16" fill="#FFCF00"/>
<rect x="2693" y="793.25" width="113" height="31.16" fill="#FFBF00"/>
<rect x="2693" y="762.69" width="113" height="31.16" fill="#FFAF00"/>
<rect x="2693" y="732.12" width="113" height="31.16" fill="#FF9F00"/>
<rect x="2693" y="701.56" width="113" height="31.16" fill="#FF8F00"/>
<rect x="2693" y="671.00" width="113" height="31.16" fill="#FF8000"/>
<rect x="2693" y="640.44" width="113" height="31.16" fill="#FF7000"/>
<rect x="2693" y="609.88" width="113" height="31.16" fill="#FF6000"/>
<rect x="2693" y="579.31" width="113" height="31.16" fill="#FF5000"/>
<rect x="2693" y="548.75" width="113" height="31.16" fill="#FF4000"/>
<rect x="2693" y="518.19" width="113" height="31.16" fill="#FF3000"/>
<rect x="2693" y="487.62" width="113" height="31.16" fill="#FF2000"/>
<rect x="2693" y="457.06" width="113" height="31.16" fill="#FF1000"/>
<rect x="2693" y="426.50" width="113" height="31.16" fill="#FF0000"/>
<rect x="2693" y="395.94" width="113" height="31.16" fill="#EF0000"/>
<rect x="2693" y="365.38" width="113" height="31.16" fill="#DF0000"/>
<rect x="2693" y="334.81" width="113" height="31.16" fill="#CF0000"/>
<rect x="2693" y="304.25" width="113" height="31.16" fill="#BF0000"/>
<rect x="2693" y="273.69" width="113" height="31.16" fill="#AF0000"/>
<rect x="2693" y="243.12" width="113" height="31.16" fill="#9F0000"/>
<rect x="2693" y="212.56" width="113" height="31.16" fill="#8F0000"/>
<rect x="2693" y="182.00" width="113" height="31.16" fill="#800000"/>
<text x="2822" y="2097.0" font-size="56">0</text>
<text x="2822" y="1909.0" font-size="56">100</text>
<text x="2822" y="1721.0" font-size="56">200</text>
<text x="2822" y="1533.0" font-size="56">300</text>
<text x="2822" y="1345.0" font-size="56">400</text>
<text x="2822" y="1157.0" font-size="56">500</text>
<text x="2822" y="970.0" font-size="56">600</text>
<text x="2822" y="782.0" font-size="56">700</text>
<text x="2822" y="594.0" font-size="56">800</text>
<text x="2822" y="406.0" font-size="56">900</text>
<text x="2822" y="218.0" font-size="56">1000</text>
<path d="M2693 2078 h21 M2806 2078 h-21 M2693 1890 h21 M2806 1890 h-21 M2693 1702 h21 M2806 1702 h-21 M2693 1514 h21 M2806 1514 h-21 M2693 1326 h21 M2806 1326 h-21 M2693 1138 h21 M2806 1138 h-21 M2693 951 h21 M2806 951 h-21 M2693 763 h21 M2806 763 h-21 M2693 575 h21 M2806 575 h-21 M2693 387 h21 M2806 387 h-21 M2693 199 h21 M2806 199 h-21" stroke="#000" stroke-width="2" fill="none"/>
<rect x="2694" y="181" width="111" height="1958" fill="none" stroke="#000" stroke-width="2"/>
</svg></body></html>
